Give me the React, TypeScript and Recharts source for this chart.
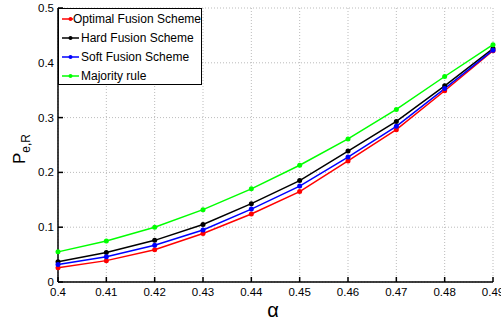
import { LineChart, Line, XAxis, YAxis, CartesianGrid } from "recharts";

const alphas = [0.4, 0.41, 0.42, 0.43, 0.44, 0.45, 0.46, 0.47, 0.48, 0.49];
const optimal = [0.026, 0.039, 0.059, 0.0885, 0.124, 0.165, 0.221, 0.278, 0.349, 0.422];
const hard = [0.037, 0.054, 0.076, 0.105, 0.143, 0.185, 0.239, 0.293, 0.358, 0.426];
const soft = [0.032, 0.046, 0.067, 0.095, 0.133, 0.175, 0.228, 0.284, 0.353, 0.423];
const majority = [0.055, 0.075, 0.1, 0.132, 0.17, 0.213, 0.261, 0.315, 0.375, 0.433];
const yTicks = [0, 0.1, 0.2, 0.3, 0.4, 0.5];

const SERIES = [
  { key: "optimal", name: "Optimal Fusion Scheme", color: "#ff0000" },
  { key: "hard", name: "Hard Fusion Scheme", color: "#000000" },
  { key: "soft", name: "Soft Fusion Scheme", color: "#0000ff" },
  { key: "majority", name: "Majority rule", color: "#00ff00" },
];

const data = alphas.map((a, i) => ({
  a,
  optimal: optimal[i],
  hard: hard[i],
  soft: soft[i],
  majority: majority[i],
}));

const FONT = "'Liberation Sans', Arial, sans-serif";
const tickStyle = { fontSize: 11.5, fill: "#000", fontFamily: FONT };

// matlab-style boxed legend, laid over the top-left of the plot
function LegendBox() {
  return (
    <div
      style={{
        position: "absolute",
        left: 58,
        top: 8,
        width: 144,
        height: 77,
        border: "1px solid #000",
        background: "#fff",
        fontFamily: FONT,
        fontSize: 12,
        boxSizing: "border-box",
        paddingTop: 1,
      }}
    >
      {SERIES.map((s) => (
        <div key={s.key} style={{ display: "flex", alignItems: "center", height: 18.9 }}>
          <svg width={21} height={10} style={{ marginLeft: 1 }}>
            <line x1={2} y1={5} x2={19} y2={5} stroke={s.color} strokeWidth={1.5} />
            <circle cx={10.5} cy={5} r={2} fill={s.color} />
          </svg>
          <span style={{ color: "#000", whiteSpace: "nowrap" }}>{s.name}</span>
        </div>
      ))}
    </div>
  );
}

export default function App() {
  return (
    <div style={{ position: "fixed", left: 0, top: 0, width: 501, height: 324, background: "#fff" }}>
      <LineChart width={501} height={324} data={data} margin={{ top: 8, right: 8, bottom: 12, left: 18 }}>
        <CartesianGrid stroke="#aaa" strokeDasharray="1 2" strokeWidth={0.8} />
        <XAxis
          dataKey="a"
          type="number"
          domain={[0.4, 0.49]}
          ticks={alphas}
          tickFormatter={(v: number) => String(Number(v.toFixed(2)))}
          height={30}
          stroke="#000"
          strokeWidth={1.5}
          tickSize={-5}
          tickMargin={11}
          tick={tickStyle}
          interval={0}
        />
        <XAxis
          xAxisId="top"
          orientation="top"
          dataKey="a"
          type="number"
          domain={[0.4, 0.49]}
          ticks={alphas}
          height={0}
          stroke="#000"
          strokeWidth={1.5}
          tickSize={-5}
          tick={false}
        />
        <YAxis
          type="number"
          domain={[0, 0.5]}
          ticks={yTicks}
          width={40}
          stroke="#000"
          strokeWidth={1.5}
          tickSize={-5}
          tickMargin={9}
          tick={tickStyle}
          tickFormatter={(v: number) => String(v)}
        />
        <YAxis
          yAxisId="right"
          orientation="right"
          type="number"
          domain={[0, 0.5]}
          ticks={yTicks}
          width={0}
          stroke="#000"
          strokeWidth={1.5}
          tickSize={-5}
          tick={false}
        />
        {SERIES.map((s) => (
          <Line
            key={s.key}
            dataKey={s.key}
            name={s.name}
            stroke={s.color}
            strokeWidth={1.5}
            dot={{ r: 2.5, fill: s.color, stroke: s.color, strokeWidth: 0 }}
            isAnimationActive={false}
          />
        ))}
      </LineChart>
      <LegendBox />
      <svg
        width={501}
        height={324}
        style={{ position: "absolute", left: 0, top: 0, pointerEvents: "none" }}
      >
        <text x={273} y={317} fontSize={20} fontFamily={FONT} textAnchor="middle" fill="#000">
          α
        </text>
        <text transform="translate(25,164) rotate(-90)" fontFamily={FONT} fill="#000">
          <tspan fontSize={17}>P</tspan>
          <tspan fontSize={12} dy={5}>e,R</tspan>
        </text>
      </svg>
    </div>
  );
}
